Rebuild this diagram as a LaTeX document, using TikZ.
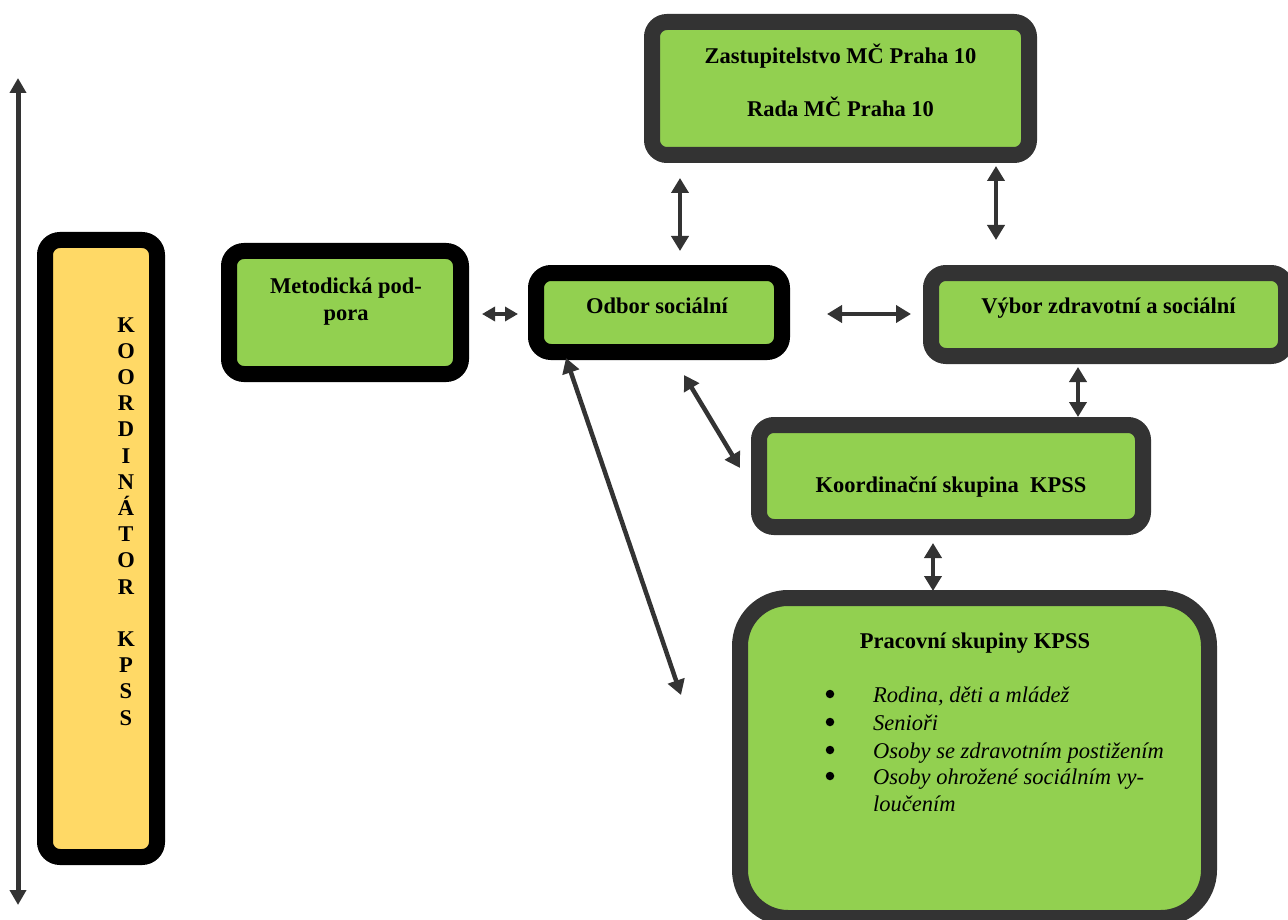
\documentclass[tikz,border=0pt]{standalone}
\usepackage{fontspec}
\setmainfont{Liberation Serif}
\usetikzlibrary{arrows.meta}
\definecolor{boxgreen}{HTML}{92D050}
\definecolor{boxyellow}{HTML}{FFD966}
\definecolor{framegray}{HTML}{333333}
\begin{document}
\begin{tikzpicture}[x=1pt,y=1pt,
  blackbox/.style={draw=black, line width=16pt, fill=boxgreen, rounded corners=15pt, inner sep=0pt, outer sep=0pt},
  graybox/.style={draw=framegray, line width=16pt, fill=boxgreen, rounded corners=15pt, inner sep=0pt, outer sep=0pt},
  txt/.style={font=\fontsize{22.5}{26}\selectfont\bfseries, inner sep=0pt, anchor=base},
  itm/.style={font=\fontsize{22.5}{26}\selectfont\itshape, inner sep=0pt, anchor=base west},
  bul/.style={circle, fill=black, inner sep=0pt, minimum size=8.5pt},
  conn/.style={draw=framegray, line width=4.5pt, {Triangle[width=17pt,length=15pt]}-{Triangle[width=17pt,length=15pt]}}
]
\useasboundingbox (0,0) rectangle (1288,-920);

% boxes
\node[blackbox, fill=boxyellow, minimum width=112pt, minimum height=617pt] (koordinator) at (101,-548.5) {};
\node[blackbox, minimum width=232pt, minimum height=123pt] (metod) at (345,-312.5) {};
\node[blackbox, minimum width=246pt, minimum height=79pt] (odbor) at (659,-312.5) {};
\node[graybox, minimum width=377pt, minimum height=133pt] (zast) at (840.5,-88.5) {};
\node[graybox, minimum width=355pt, minimum height=83pt] (vybor) at (1108.5,-314.5) {};
\node[graybox, minimum width=384pt, minimum height=102pt] (koord) at (951,-476) {};
\node[graybox, rounded corners=48pt, minimum width=469pt, minimum height=320pt] (prac) at (974.5,-758) {};

% texts
\node[txt] (zast-t1) at (840.5,-64) {Zastupitelstvo MČ Praha 10};
\node[txt] (zast-t2) at (840.5,-117) {Rada MČ Praha 10};
\node[txt] (metod-t1) at (346,-293) {Metodická pod-};
\node[txt] (metod-t2) at (346,-320) {pora};
\node[txt] (odbor-t) at (657,-313) {Odbor sociální};
\node[txt] (vybor-t) at (1108.5,-313) {Výbor zdravotní a sociální};
\node[txt] (koord-t) at (951,-492) {Koordinační skupina\ \ KPSS};
\node[txt] (prac-t) at (975,-648) {Pracovní skupiny KPSS};

\foreach \yy/\t [count=\i] in {702/{Rodina, děti a mládež},730/{Senioři},758/{Osoby se zdravotním postižením},784/{Osoby ohrožené sociálním vy-}}{
  \node[bul] (bul\i) at (830,{-\yy+8}) {};
  \node[itm] (item\i) at (873,-\yy) {\t};
}
\node[itm] (item5) at (873,-811) {loučením};

\foreach \l [count=\i from 0] in {K,O,O,R,D,I,N,Á,T,O,R,{},K,P,S,S}{
  \node[txt] (letter\i) at (126,{-332-26.2*\i}) {\l};
}

% connector end points
\coordinate (c1a) at (482,-314); \coordinate (c1b) at (518,-314);
\coordinate (c2a) at (827,-314); \coordinate (c2b) at (911,-314);
\coordinate (c3a) at (680,-178); \coordinate (c3b) at (680,-251);
\coordinate (c4a) at (996,-166); \coordinate (c4b) at (996,-240);
\coordinate (c5a) at (1078,-367); \coordinate (c5b) at (1078,-417);
\coordinate (c6a) at (933,-543); \coordinate (c6b) at (933,-591);
\coordinate (c7a) at (684,-375); \coordinate (c7b) at (740,-468);
\coordinate (c8a) at (566,-358); \coordinate (c8b) at (681,-695);
\coordinate (top) at (18,-78); \coordinate (bottom) at (18,-905);

\draw[draw=framegray, line width=4.5pt, {Triangle[width=14pt,length=13pt]}-{Triangle[width=14pt,length=13pt]}] (c1a) -- (c1b);
\draw[conn] (c2a) -- (c2b);
\draw[conn] (c3a) -- (c3b);
\draw[conn] (c4a) -- (c4b);
\draw[conn] (c5a) -- (c5b);
\draw[conn] (c6a) -- (c6b);
\draw[conn] (c7a) -- (c7b);
\draw[conn] (c8a) -- (c8b);
\draw[draw=framegray, line width=5pt, {Triangle[width=16pt,length=15pt]}-{Triangle[width=16pt,length=15pt]}] (top) -- (bottom);
\end{tikzpicture}
\end{document}
